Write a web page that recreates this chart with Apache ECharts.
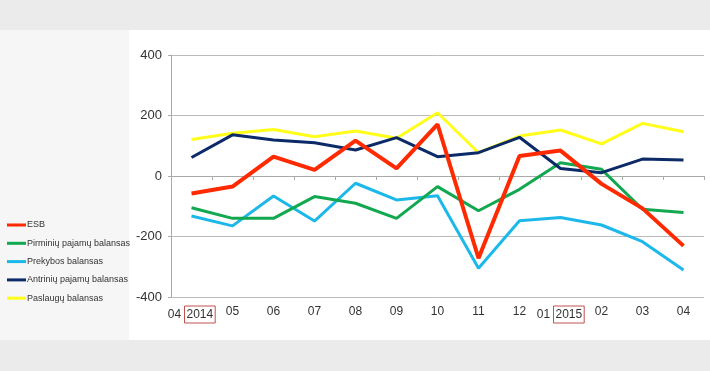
<!DOCTYPE html>
<html><head><meta charset="utf-8">
<script src="https://cdn.jsdelivr.net/npm/echarts@6/dist/echarts.min.js"></script>
<style>html,body{margin:0;padding:0;background:#fff;}#c{width:710px;height:371px;}</style>
</head><body><div id="c"></div>
<script>
const categories = ['04 2014','05','06','07','08','09','10','11','12','01 2015','02','03','04'];
const esb =       [-58, -35, 64, 20, 117, 25, 171, -272, 66, 84, -26, -107, -231];
const pirminiu =  [-105, -140, -140, -68, -90, -140, -35, -115, -44, 44, 22, -110, -121];
const prekybos =  [-132, -165, -66, -149, -24, -79, -65, -305, -148, -137, -162, -217, -311];
const antriniu =  [61, 136, 119, 110, 86, 127, 64, 77, 128, 25, 11, 56, 53];
const paslaugu =  [121, 141, 154, 130, 149, 125, 209, 77, 132, 152, 106, 174, 146];
const yTicks = [-400, -200, 0, 200, 400];

const font = 'Liberation Sans, Arial, sans-serif';
const chart = echarts.init(document.getElementById('c'), null, {renderer:'canvas'});
function fmt(v){
  const p = v.split(' ');
  return p.length > 1 ? p[0] + ' {b|' + p[1] + '}' : v;
}
const mk = (name, data, color, w, z) => ({
  name, type:'line', data, xAxisIndex:0, symbol:'none', z,
  lineStyle:{color, width:w}, itemStyle:{color}
});
chart.setOption({
  animation:false,
  textStyle:{fontFamily:font},
  graphic:[
    {type:'rect', left:0, top:0, shape:{width:710, height:30}, style:{fill:'#ebebeb'}, z:-10},
    {type:'rect', left:0, top:340, shape:{width:710, height:31}, style:{fill:'#ebebeb'}, z:-10},
    {type:'rect', left:0, top:30, shape:{width:129, height:310}, style:{fill:'#f6f6f6'}, z:-10}
  ],
  legend:{
    orient:'vertical', left:7, top:219, padding:0, icon:'rect', itemWidth:19, itemHeight:3, itemGap:6.3,
    data:['ESB','Pirminių pajamų balansas','Prekybos balansas','Antrinių pajamų balansas','Paslaugų balansas'],
    textStyle:{fontSize:9, color:'#333', fontFamily:font, lineHeight:12, padding:[0,0,0,-4]}
  },
  grid:{left:171, top:55, width:533, height:242, containLabel:false},
  xAxis:[{
    type:'category', data:categories, boundaryGap:true, position:'bottom',
    axisLine:{show:false, onZero:false}, axisTick:{show:false},
    axisLabel:{interval:0, fontSize:12, color:'#333', margin:9, fontFamily:font, formatter:fmt,
      rich:{b:{fontSize:12, color:'#333', fontFamily:font, borderColor:'#c0504d', borderWidth:1, padding:[3,2,2,2]}}}
  },{
    type:'category', data:categories, boundaryGap:true, position:'top',
    axisLine:{show:true, onZero:true, lineStyle:{color:'#aaa', width:1}},
    axisTick:{show:true, inside:true, length:4, interval:0, lineStyle:{color:'#aaa'}},
    axisLabel:{show:false}
  }],
  yAxis:{
    type:'value', min:yTicks[0], max:yTicks[yTicks.length-1], interval:200,
    axisLine:{show:true, lineStyle:{color:'#aaa'}},
    axisTick:{show:true, length:3, lineStyle:{color:'#aaa'}},
    axisLabel:{fontSize:13, color:'#333', margin:9, fontFamily:font},
    splitLine:{show:true, lineStyle:{color:'#bbb', width:1}}
  },
  series:[
    mk('Paslaugų balansas', paslaugu, '#ffff1a', 3, 2),
    mk('Prekybos balansas', prekybos, '#1cb8ea', 3, 3),
    mk('Pirminių pajamų balansas', pirminiu, '#12a850', 3, 4),
    mk('Antrinių pajamų balansas', antriniu, '#0c2a68', 3, 5),
    mk('ESB', esb, '#ff2a00', 4, 6)
  ]
});
</script></body></html>
